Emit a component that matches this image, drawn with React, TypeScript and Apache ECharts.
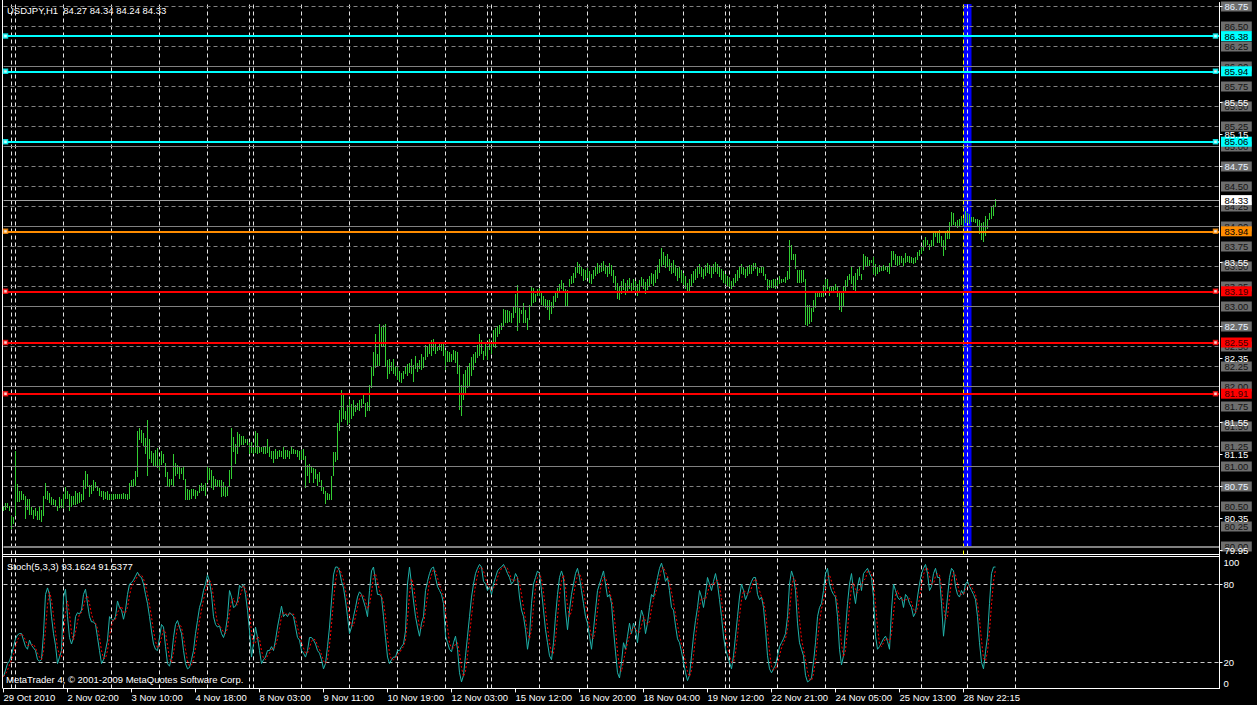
import React, { useEffect, useRef } from 'react';
import * as echarts from 'echarts';

const FONT = "'Liberation Sans', Arial, sans-serif";
const SLOTS = 609;
const X_LABELS = ['29 Oct 2010', '2 Nov 02:00', '3 Nov 10:00', '4 Nov 18:00', '8 Nov 03:00', '9 Nov 11:00', '10 Nov 19:00', '12 Nov 03:00', '15 Nov 12:00', '16 Nov 20:00', '18 Nov 04:00', '19 Nov 12:00', '22 Nov 21:00', '24 Nov 05:00', '25 Nov 13:00', '28 Nov 22:15'];
const X_LABEL_STEP = 32;
const DAY_STARTS = [4, 6, 30, 54, 78, 102, 123, 125, 149, 173, 197, 221, 242, 244, 268, 292, 316, 340, 361, 363, 387, 411, 435, 459, 482, 506];
const YELLOW_SEPARATOR = 480;
const BLUE_BAND = [480, 484];
const BLUE_BAND_PRICE = [86.78, 79.99];
const PRICE_LEVELS = [80.0, 80.25, 80.5, 80.75, 81.0, 81.25, 81.5, 81.75, 82.0, 82.25, 82.5, 82.75, 83.0, 83.25, 83.5, 83.75, 84.0, 84.25, 84.5, 84.75, 85.0, 85.25, 85.5, 85.75, 86.0, 86.25, 86.5, 86.75];
const LIGHT_LEVELS = [86.75, 84.75, 82.75, 80.75];
const SCALE_LABELS = [79.95, 80.35, 81.15, 81.55, 82.35, 83.55, 85.15, 85.55];
const SCALE_TICKS = [79.95, 80.35, 80.75, 81.15, 81.55, 82.35, 82.75, 83.55, 84.75, 85.15, 85.55, 86.75];
const CYAN_LINES = [86.38, 85.94, 85.06];
const ORANGE_LINES = [83.94];
const RED_LINES = [83.19, 82.55, 81.91];
const BID = 84.33;
const STOCH_LEVELS = [80, 20];
const STOCH_LABELS = [0, 20, 80, 100];

// bar highs / lows, bars 0..278
const HIGH_A = [
  80.51, 80.54, 80.55, 80.51, 80.38, 80.37, 81.19, 80.78, 80.69, 80.69,
  80.65, 80.63, 80.60, 80.59, 80.49, 80.46, 80.48, 80.44, 80.49, 80.46,
  80.63, 80.79, 80.70, 80.67, 80.62, 80.60, 80.58, 80.51, 80.62, 80.59,
  80.66, 80.74, 80.69, 80.65, 80.63, 80.63, 80.70, 80.67, 80.68, 80.65,
  80.83, 80.95, 80.90, 80.77, 80.77, 80.83, 80.81, 80.75, 80.73, 80.70,
  80.69, 80.68, 80.69, 80.65, 80.66, 80.66, 80.65, 80.66, 80.66, 80.65,
  80.67, 80.66, 80.66, 80.80, 80.83, 80.85, 80.94, 81.44, 81.48, 81.46,
  81.42, 81.36, 81.58, 81.34, 81.19, 81.17, 81.21, 81.23, 81.09, 81.19,
  81.15, 81.04, 80.93, 80.85, 80.85, 81.16, 81.04, 81.02, 81.00, 80.98,
  81.00, 80.84, 80.72, 80.71, 80.72, 80.72, 80.71, 80.69, 80.77, 80.79,
  80.77, 80.80, 81.00, 80.98, 80.96, 80.88, 80.84, 80.83, 80.83, 80.83,
  80.81, 80.76, 80.74, 80.96, 81.48, 81.37, 81.28, 81.43, 81.40, 81.38,
  81.38, 81.35, 81.35, 81.29, 81.31, 81.25, 81.44, 81.42, 81.25, 81.25,
  81.24, 81.25, 81.34, 81.25, 81.20, 81.19, 81.22, 81.19, 81.21, 81.20,
  81.25, 81.21, 81.21, 81.20, 81.25, 81.22, 81.21, 81.21, 81.19, 81.21,
  81.22, 81.13, 81.02, 81.03, 81.00, 80.98, 80.97, 80.90, 80.93, 80.83,
  80.75, 80.70, 80.67, 80.66, 80.88, 81.18, 81.18, 81.55, 81.71, 81.96,
  81.90, 81.69, 81.77, 81.85, 81.78, 81.83, 81.77, 81.80, 81.83, 81.85,
  81.90, 81.79, 81.81, 82.02, 82.24, 82.43, 82.66, 82.41, 82.78, 82.75,
  82.77, 82.78, 82.33, 82.34, 82.31, 82.34, 82.26, 82.24, 82.20, 82.17,
  82.19, 82.26, 82.28, 82.29, 82.35, 82.27, 82.38, 82.29, 82.33, 82.40,
  82.37, 82.52, 82.51, 82.54, 82.58, 82.59, 82.54, 82.50, 82.53, 82.54,
  82.53, 82.46, 82.45, 82.43, 82.41, 82.46, 82.45, 82.43, 82.27, 82.02,
  82.15, 82.21, 82.24, 82.29, 82.37, 82.41, 82.43, 82.52, 82.65, 82.58,
  82.45, 82.56, 82.50, 82.59, 82.53, 82.70, 82.73, 82.76, 82.77, 82.79,
  82.97, 82.96, 82.95, 82.94, 82.92, 82.99, 83.15, 83.27, 82.98, 82.95,
  83.04, 82.96, 82.86, 83.02, 83.26, 83.23, 83.15, 83.22, 83.23, 83.17,
  83.13, 83.09, 83.08, 83.08, 83.06, 83.13, 83.17, 83.23, 83.28,
];
const LOW_A = [
  80.45, 80.46, 80.48, 80.44, 80.22, 80.28, 80.38, 80.56, 80.56, 80.58,
  80.58, 80.34, 80.46, 80.40, 80.40, 80.34, 80.38, 80.33, 80.33, 80.31,
  80.38, 80.59, 80.58, 80.54, 80.52, 80.52, 80.49, 80.44, 80.48, 80.48,
  80.48, 80.59, 80.60, 80.45, 80.49, 80.52, 80.52, 80.53, 80.55, 80.56,
  80.58, 80.72, 80.74, 80.62, 80.65, 80.69, 80.73, 80.69, 80.63, 80.62,
  80.58, 80.60, 80.58, 80.58, 80.58, 80.58, 80.60, 80.60, 80.59, 80.59,
  80.59, 80.59, 80.58, 80.59, 80.75, 80.75, 80.76, 80.87, 81.33, 81.29,
  81.26, 81.16, 80.88, 81.09, 81.04, 81.00, 81.00, 80.98, 80.96, 81.02,
  81.04, 80.87, 80.74, 80.75, 80.77, 80.74, 80.88, 80.90, 80.84, 80.90,
  80.83, 80.58, 80.58, 80.58, 80.60, 80.63, 80.60, 80.63, 80.67, 80.69,
  80.69, 80.63, 80.79, 80.83, 80.73, 80.71, 80.74, 80.74, 80.74, 80.62,
  80.63, 80.62, 80.63, 80.74, 80.84, 81.18, 81.03, 81.15, 81.25, 81.27,
  81.27, 81.29, 81.27, 81.15, 81.17, 81.15, 81.17, 81.15, 81.17, 81.18,
  81.15, 81.15, 81.17, 81.12, 81.09, 81.05, 81.09, 81.09, 81.12, 81.12,
  81.10, 81.10, 81.12, 81.09, 81.15, 81.16, 81.15, 81.12, 81.08, 81.08,
  81.08, 80.73, 80.88, 80.79, 80.92, 80.80, 80.85, 80.76, 80.81, 80.69,
  80.65, 80.53, 80.58, 80.58, 80.58, 80.88, 81.06, 81.08, 81.44, 81.56,
  81.60, 81.58, 81.52, 81.54, 81.60, 81.63, 81.68, 81.71, 81.69, 81.73,
  81.78, 81.62, 81.69, 81.70, 81.98, 82.13, 82.23, 82.24, 82.26, 82.50,
  82.50, 82.24, 82.09, 82.15, 82.19, 82.15, 82.13, 82.08, 82.06, 82.04,
  82.09, 82.16, 82.13, 82.17, 82.15, 82.06, 82.22, 82.18, 82.22, 82.21,
  82.23, 82.33, 82.37, 82.41, 82.38, 82.44, 82.41, 82.44, 82.46, 82.44,
  82.38, 82.21, 82.31, 82.31, 82.31, 82.33, 82.29, 82.16, 81.71, 81.63,
  81.83, 81.92, 81.98, 81.99, 82.13, 82.21, 82.29, 82.36, 82.38, 82.40,
  82.33, 82.38, 82.33, 82.46, 82.41, 82.50, 82.48, 82.62, 82.66, 82.70,
  82.75, 82.79, 82.79, 82.81, 82.80, 82.86, 82.92, 82.69, 82.79, 82.90,
  82.80, 82.79, 82.70, 82.83, 83.00, 83.04, 83.06, 83.13, 83.13, 83.02,
  83.00, 82.98, 82.96, 82.83, 82.90, 82.98, 83.06, 83.11, 83.17,
];
// bars 279..373
const HIGH_B = [
  83.33, 83.29, 83.22, 83.21, 83.35, 83.38, 83.42, 83.50, 83.56, 83.53,
  83.50, 83.47, 83.45, 83.48, 83.44, 83.40, 83.46, 83.50, 83.54, 83.52,
  83.55, 83.57, 83.52, 83.49, 83.55, 83.52, 83.45, 83.38, 83.30, 83.26,
  83.32, 83.35, 83.30, 83.33, 83.36, 83.30, 83.34, 83.32, 83.28, 83.33,
  83.37, 83.35, 83.31, 83.34, 83.38, 83.42, 83.40, 83.45, 83.52, 83.60,
  83.73, 83.68, 83.63, 83.66, 83.60, 83.55, 83.58, 83.52, 83.48, 83.50,
  83.46, 83.42, 83.38, 83.30, 83.35, 83.40, 83.44, 83.47, 83.50, 83.53,
  83.50, 83.47, 83.52, 83.55, 83.52, 83.49, 83.53, 83.56, 83.53, 83.50,
  83.47, 83.44, 83.40, 83.38, 83.36, 83.32, 83.36, 83.40, 83.45, 83.50,
  83.53, 83.50, 83.47, 83.50, 83.52,
];
const LOW_B = [
  83.22, 83.19, 83.00, 83.00, 83.24, 83.28, 83.30, 83.36, 83.42, 83.40,
  83.38, 83.32, 83.33, 83.36, 83.30, 83.28, 83.34, 83.38, 83.40, 83.42,
  83.43, 83.44, 83.40, 83.37, 83.41, 83.38, 83.30, 83.20, 83.10, 83.08,
  83.15, 83.20, 83.14, 83.18, 83.22, 83.17, 83.21, 83.17, 83.13, 83.19,
  83.24, 83.22, 83.16, 83.20, 83.25, 83.28, 83.26, 83.30, 83.35, 83.42,
  83.50, 83.52, 83.48, 83.50, 83.44, 83.40, 83.42, 83.38, 83.32, 83.36,
  83.30, 83.27, 83.22, 83.17, 83.18, 83.26, 83.30, 83.33, 83.36, 83.40,
  83.37, 83.34, 83.38, 83.42, 83.40, 83.36, 83.41, 83.43, 83.40, 83.37,
  83.33, 83.30, 83.28, 83.26, 83.24, 83.22, 83.25, 83.29, 83.32, 83.36,
  83.40, 83.39, 83.36, 83.38, 83.40,
];
// bars 374..496
const HIGH_C = [
  83.52, 83.55, 83.54, 83.49, 83.48, 83.51, 83.49, 83.40, 83.34, 83.33,
  83.33, 83.34, 83.35, 83.33, 83.38, 83.35, 83.34, 83.37, 83.44, 83.83,
  83.77, 83.66, 83.66, 83.46, 83.45, 83.46, 83.45, 83.35, 83.02, 83.02,
  82.98, 83.08, 83.17, 83.18, 83.18, 83.18, 83.27, 83.35, 83.34, 83.24,
  83.25, 83.26, 83.28, 83.24, 83.18, 83.17, 83.26, 83.33, 83.38, 83.40,
  83.49, 83.38, 83.42, 83.47, 83.49, 83.41, 83.66, 83.63, 83.62, 83.58,
  83.58, 83.62, 83.53, 83.49, 83.52, 83.51, 83.52, 83.51, 83.51, 83.55,
  83.69, 83.69, 83.65, 83.63, 83.63, 83.63, 83.61, 83.67, 83.63, 83.63,
  83.62, 83.61, 83.62, 83.68, 83.70, 83.76, 83.83, 83.87, 83.83, 83.78,
  83.83, 83.94, 83.94, 83.93, 83.96, 83.88, 83.83, 83.92, 83.96, 84.06,
  84.18, 84.17, 84.06, 84.08, 84.09, 84.13, 84.10, 84.19, 84.17, 84.16,
  84.12, 84.12, 84.10, 84.09, 84.08, 84.05, 84.06, 84.13, 84.09, 84.17,
  84.26, 84.27, 84.34,
];
const LOW_C = [
  83.41, 83.44, 83.47, 83.38, 83.42, 83.42, 83.38, 83.33, 83.21, 83.23,
  83.23, 83.23, 83.22, 83.26, 83.28, 83.30, 83.31, 83.30, 83.33, 83.35,
  83.58, 83.58, 83.47, 83.29, 83.30, 83.30, 83.31, 82.77, 82.76, 82.78,
  82.81, 82.93, 82.98, 83.12, 83.12, 83.12, 83.12, 83.17, 83.22, 83.13,
  83.19, 83.17, 83.21, 83.12, 82.95, 82.93, 83.00, 83.17, 83.25, 83.33,
  83.28, 83.21, 83.17, 83.33, 83.38, 83.33, 83.46, 83.49, 83.51, 83.51,
  83.54, 83.41, 83.38, 83.41, 83.43, 83.44, 83.44, 83.45, 83.43, 83.41,
  83.49, 83.58, 83.52, 83.51, 83.52, 83.54, 83.51, 83.54, 83.56, 83.55,
  83.55, 83.53, 83.54, 83.58, 83.63, 83.65, 83.69, 83.75, 83.77, 83.71,
  83.75, 83.76, 83.87, 83.79, 83.79, 83.75, 83.63, 83.70, 83.84, 83.84,
  84.00, 84.02, 83.99, 83.98, 83.99, 84.02, 84.00, 84.04, 84.05, 84.03,
  84.06, 84.06, 84.05, 84.01, 83.91, 83.83, 83.81, 83.88, 83.97, 84.08,
  84.09, 84.13, 84.24,
];
const HIGH = [...HIGH_A, ...HIGH_B, ...HIGH_C];
const LOW = [...LOW_A, ...LOW_B, ...LOW_C];

// Stochastic %K (main) and %D (signal), bars 0..207 and 208..496
const K_A = [
  9, 14, 19, 21, 26, 32, 38, 41, 42, 42,
  37, 32, 30, 37, 33, 31, 29, 22, 21, 22,
  42, 72, 77, 72, 55, 42, 33, 19, 24, 29,
  70, 76, 55, 39, 34, 39, 55, 58, 57, 60,
  72, 76, 65, 55, 51, 51, 49, 39, 29, 19,
  22, 29, 37, 55, 53, 52, 55, 67, 62, 60,
  53, 60, 72, 80, 81, 83, 86, 89, 86, 85,
  80, 72, 65, 55, 44, 34, 30, 29, 39, 49,
  47, 32, 19, 17, 24, 39, 49, 52, 47, 42,
  29, 19, 15, 16, 22, 29, 42, 52, 62, 67,
  75, 80, 87, 82, 72, 55, 49, 47, 48, 42,
  39, 44, 55, 75, 70, 62, 63, 67, 79, 77,
  80, 72, 60, 44, 24, 34, 47, 39, 29, 19,
  22, 24, 29, 29, 32, 29, 37, 47, 55, 63,
  55, 57, 55, 58, 57, 55, 47, 39, 37, 29,
  27, 24, 29, 39, 39, 37, 34, 29, 27, 22,
  15, 19, 32, 47, 67, 87, 93, 93, 90, 82,
  77, 67, 55, 42, 47, 55, 62, 70, 74, 72,
  67, 62, 55, 75, 90, 93, 82, 72, 72, 70,
  55, 39, 24, 19, 22, 24, 24, 29, 29, 32,
  34, 44, 80, 93, 80, 67, 55, 47,
];
const K_B = [
  40, 50, 55, 75, 82, 88, 92, 93, 85, 78,
  75, 72, 65, 40, 35, 30, 28, 35, 40, 30,
  12, 5, 10, 25, 40, 55, 70, 80, 88, 92,
  95, 93, 82, 80, 75, 78, 72, 80, 85, 90,
  92, 93, 95, 92, 88, 85, 80, 82, 88, 85,
  70, 60, 55, 45, 30, 40, 65, 80, 85, 90,
  88, 75, 60, 45, 35, 25, 22, 35, 55, 72,
  85, 90, 85, 60, 45, 60, 72, 80, 88, 92,
  85, 75, 65, 55, 50, 40, 30, 45, 60, 75,
  80, 85, 90, 80, 70, 72, 65, 45, 28, 12,
  8, 20, 35, 30, 40, 50, 42, 50, 45, 35,
  50, 60, 55, 42, 50, 62, 72, 70, 78, 85,
  92, 96, 90, 82, 85, 75, 62, 60, 48, 38,
  35, 28, 20, 12, 6, 10, 25, 40, 52, 62,
  75, 70, 62, 72, 85, 80, 75, 82, 88, 80,
  68, 55, 40, 30, 25, 20, 15, 25, 40, 55,
  70, 80, 75, 68, 72, 78, 82, 85, 85, 72,
  68, 70, 62, 45, 25, 15, 12, 15, 18, 25,
  32, 35, 38, 42, 55, 80, 90, 85, 75, 50,
  35, 30, 25, 10, 5, 6, 8, 20, 35, 55,
  62, 65, 75, 88, 92, 80, 75, 72, 70, 55,
  30, 18, 25, 45, 65, 80, 88, 75, 65, 78,
  85, 75, 88, 90, 92, 88, 85, 70, 40, 30,
  32, 35, 38, 40, 36, 30, 60, 80, 75, 70,
  68, 70, 62, 72, 70, 65, 62, 55, 58, 70,
  80, 88, 92, 95, 88, 75, 78, 88, 92, 85,
  85, 65, 40, 55, 70, 85, 92, 90, 78, 72,
  70, 75, 72, 80, 82, 78, 75, 72, 68, 55,
  35, 20, 15, 28, 40, 65, 88, 93, 93,
];
const D_A = [
  9, 11, 14, 18, 22, 26, 32, 37, 40, 42,
  40, 37, 33, 33, 33, 34, 31, 27, 24, 22,
  28, 45, 64, 74, 68, 56, 43, 31, 25, 24,
  41, 58, 67, 57, 43, 37, 43, 51, 57, 58,
  63, 69, 71, 65, 57, 52, 50, 46, 39, 29,
  23, 23, 29, 40, 48, 53, 53, 58, 61, 63,
  58, 58, 62, 71, 78, 81, 83, 86, 87, 87,
  84, 79, 72, 64, 55, 44, 36, 31, 33, 39,
  45, 43, 33, 23, 20, 27, 37, 47, 49, 47,
  39, 30, 21, 17, 18, 22, 31, 41, 52, 60,
  68, 74, 81, 83, 80, 70, 59, 50, 48, 46,
  43, 42, 46, 58, 67, 69, 65, 64, 70, 74,
  79, 76, 71, 59, 43, 34, 35, 40, 38, 29,
  23, 22, 25, 27, 30, 30, 33, 38, 46, 55,
  58, 58, 56, 57, 57, 57, 53, 47, 41, 35,
  31, 27, 27, 31, 36, 38, 37, 33, 30, 26,
  21, 19, 22, 33, 49, 67, 82, 91, 92, 88,
  83, 75, 66, 55, 48, 48, 55, 62, 69, 72,
  71, 67, 61, 64, 73, 86, 88, 82, 75, 71,
  66, 55, 39, 27, 22, 22, 23, 26, 27, 30,
  32, 37, 53, 72, 84, 80, 67, 56,
];
const D_B = [
  47, 46, 48, 60, 71, 82, 87, 91, 90, 85,
  79, 75, 71, 59, 47, 35, 31, 31, 34, 35,
  27, 16, 9, 13, 25, 40, 55, 68, 79, 87,
  92, 93, 90, 85, 79, 78, 75, 77, 79, 85,
  89, 92, 93, 93, 92, 88, 84, 82, 83, 85,
  81, 72, 62, 53, 43, 38, 45, 62, 77, 85,
  88, 84, 74, 60, 47, 35, 27, 27, 37, 54,
  71, 82, 87, 78, 63, 55, 59, 71, 80, 87,
  88, 84, 75, 65, 57, 48, 40, 38, 45, 60,
  72, 80, 85, 85, 80, 74, 69, 61, 46, 28,
  16, 13, 21, 28, 35, 40, 44, 47, 46, 43,
  43, 48, 55, 52, 49, 51, 61, 68, 73, 78,
  85, 91, 93, 89, 86, 81, 74, 66, 57, 49,
  40, 34, 28, 20, 13, 9, 14, 25, 39, 51,
  63, 69, 69, 68, 73, 79, 80, 79, 82, 83,
  79, 68, 54, 42, 32, 25, 20, 20, 27, 40,
  55, 68, 75, 74, 72, 73, 77, 82, 84, 81,
  75, 70, 67, 59, 44, 28, 17, 14, 15, 19,
  25, 31, 35, 38, 45, 59, 75, 85, 83, 70,
  53, 38, 30, 22, 13, 7, 6, 11, 21, 37,
  51, 61, 67, 76, 85, 87, 82, 76, 72, 66,
  52, 34, 24, 29, 45, 63, 78, 81, 76, 73,
  76, 79, 83, 84, 90, 90, 88, 81, 65, 47,
  34, 32, 35, 38, 38, 35, 42, 57, 72, 75,
  71, 69, 67, 68, 68, 69, 66, 61, 58, 61,
  69, 79, 87, 92, 92, 86, 80, 80, 86, 88,
  87, 78, 63, 53, 55, 70, 82, 89, 87, 80,
  73, 72, 72, 76, 78, 80, 78, 75, 72, 65,
  53, 37, 23, 21, 28, 44, 64, 82, 91,
];
const K = [...K_A, ...K_B];
const D = [...D_A, ...D_B];

const BAR_COLOR = '#32cd32';

function App() {
  const ref = useRef<HTMLDivElement>(null);
  useEffect(() => {
    document.body.style.margin = '0';
    document.body.style.background = '#000';
    if (!ref.current) return;
    const chart = echarts.init(ref.current, null, { renderer: 'svg' });

    const cats = Array.from({ length: SLOTS }, (_, i) => String(i));
    const bars: number[][] = HIGH.map((h, i) => [i, LOW[i], h]);

    const isLabelIdx = (idx: number) => idx % X_LABEL_STEP === 0 && idx / X_LABEL_STEP < X_LABELS.length;
    const isInt = (p: number) => Math.abs(p - Math.round(p)) < 1e-6;

    const boxLabel = (text: string, bg: string, color: string) => ({
      show: true,
      position: 'end',
      distance: 1.5,
      formatter: text,
      backgroundColor: bg,
      color,
      padding: [1, 3.5, 0, 3.5],
      lineHeight: 9,
      fontSize: 9.5,
      fontFamily: FONT,
    });

    const dayLines = (withYellow: boolean) => {
      const d: any[] = DAY_STARTS.map((i) => ({ xAxis: i }));
      if (withYellow) d.push({ xAxis: YELLOW_SEPARATOR, lineStyle: { color: '#ffff00', type: [4, 3], width: 1 } });
      return d;
    };

    const objectLines: any[] = [];
    const markers: any[] = [];
    const addObj = (p: number, color: string, textColor: string) => {
      objectLines.push({ yAxis: p, lineStyle: { color, width: 2, type: 'solid' }, label: boxLabel(p.toFixed(2), color, textColor) });
      [1, 606].forEach((x) => markers.push({ value: [x, p], itemStyle: { color: '#ffffff', borderColor: color, borderWidth: 1.5 } }));
    };
    CYAN_LINES.forEach((p) => addObj(p, '#00ffff', '#000000'));
    ORANGE_LINES.forEach((p) => addObj(p, '#ff8c00', '#000000'));
    RED_LINES.forEach((p) => addObj(p, '#ff0000', '#3a0000'));
    objectLines.push({ yAxis: BID, lineStyle: { color: '#a0a0a0', width: 1, type: 'solid' }, label: boxLabel(BID.toFixed(2), '#ffffff', '#000000') });

    const option: any = {
      animation: false,
      backgroundColor: '#000000',
      textStyle: { fontFamily: FONT },
      grid: [
        { left: 3.5, top: 2.5, width: 1216, height: 552 },
        { left: 3.5, top: 557.9, width: 1216, height: 130.5 },
      ],
      xAxis: [
        {
          type: 'category', gridIndex: 0, data: cats, boundaryGap: false,
          axisLine: { show: true, lineStyle: { color: '#ffffff', width: 1 } },
          axisTick: { show: false }, axisLabel: { show: false }, splitLine: { show: false },
        },
        {
          type: 'category', gridIndex: 1, data: cats, boundaryGap: false,
          axisLine: { show: true, lineStyle: { color: '#ffffff', width: 1 } },
          axisTick: { show: true, interval: (idx: number) => isLabelIdx(idx), length: 4, lineStyle: { color: '#ffffff' } },
          axisLabel: {
            show: true, interval: (idx: number) => isLabelIdx(idx),
            formatter: (_v: string, idx: number) => X_LABELS[idx / X_LABEL_STEP] ?? '',
            align: 'left', margin: 4, color: '#ffffff', fontSize: 9.5, fontFamily: FONT,
          },
          splitLine: { show: false },
        },
      ],
      yAxis: [
        {
          type: 'value', gridIndex: 0, min: 79.9, max: 86.8, position: 'right', z: 10,
          axisLine: { show: true, lineStyle: { color: '#ffffff', width: 1 } },
          axisTick: { show: true, length: 3, customValues: SCALE_TICKS, lineStyle: { color: '#ffffff' } },
          axisLabel: { show: true, customValues: SCALE_LABELS, color: '#ffffff', fontSize: 9.5, fontFamily: FONT, margin: 5, formatter: (v: number) => v.toFixed(2) },
          splitLine: { show: false },
        },
        {
          type: 'value', gridIndex: 1, min: 0, max: 100, position: 'right', z: 10,
          axisLine: { show: true, lineStyle: { color: '#ffffff', width: 1 } },
          axisTick: { show: true, length: 3, customValues: STOCH_LEVELS, lineStyle: { color: '#ffffff' } },
          axisLabel: {
            show: true, customValues: STOCH_LABELS, color: '#ffffff', fontSize: 9.5, fontFamily: FONT, margin: 4,
            verticalAlignMinLabel: 'bottom', verticalAlignMaxLabel: 'top',
          },
          splitLine: { show: false },
        },
      ],
      series: [
        {
          name: 'band', type: 'line', xAxisIndex: 0, yAxisIndex: 0, data: [], silent: true,
          markArea: {
            z: 1, silent: true, itemStyle: { color: '#0000ff', opacity: 1 },
            data: [[{ xAxis: BLUE_BAND[0], yAxis: BLUE_BAND_PRICE[0] }, { xAxis: BLUE_BAND[1], yAxis: BLUE_BAND_PRICE[1] }]],
          },
        },
        {
          name: 'daysMain', type: 'line', xAxisIndex: 0, yAxisIndex: 0, data: [], silent: true,
          markLine: {
            z: 2, silent: true, symbol: ['none', 'none'], label: { show: false },
            lineStyle: { color: '#e6e6e6', type: [4, 3], width: 1 },
            data: dayLines(true),
          },
        },
        {
          name: 'bars', type: 'custom', xAxisIndex: 0, yAxisIndex: 0, z: 3, silent: true,
          encode: { x: 0, y: [1, 2] },
          data: bars,
          renderItem: (_params: any, api: any) => {
            const i = api.value(0);
            const top = api.coord([i, api.value(2)]);
            const bot = api.coord([i, api.value(1)]);
            const x = Math.floor(top[0]) + 0.5;
            const y1 = Math.round(top[1]);
            let y2 = Math.round(bot[1]);
            if (y2 - y1 < 1) y2 = y1 + 1;
            return { type: 'line', shape: { x1: x, y1, x2: x, y2 }, style: { stroke: BAR_COLOR, lineWidth: 1 } };
          },
        },
        {
          name: 'levels', type: 'line', xAxisIndex: 0, yAxisIndex: 0, data: [], silent: true,
          markLine: {
            z: 4, silent: true, symbol: ['none', 'none'],
            data: PRICE_LEVELS.map((p) => ({
              yAxis: p,
              lineStyle: { color: '#808080', type: isInt(p) ? 'solid' : [4, 3], width: p === 80 ? 2 : 1 },
              label: boxLabel(p.toFixed(2), '#6e6e6e', LIGHT_LEVELS.includes(p) ? '#e8f2ff' : '#141414'),
            })),
          },
        },
        {
          name: 'objects', type: 'line', xAxisIndex: 0, yAxisIndex: 0, data: [], silent: true,
          markLine: { z: 5, silent: true, symbol: ['none', 'none'], data: objectLines },
        },
        {
          name: 'markers', type: 'scatter', xAxisIndex: 0, yAxisIndex: 0, z: 6, silent: true,
          symbol: 'rect', symbolSize: 4, data: markers,
        },
        {
          name: 'daysStoch', type: 'line', xAxisIndex: 1, yAxisIndex: 1, data: [], silent: true,
          markLine: {
            z: 1, silent: true, symbol: ['none', 'none'], label: { show: false },
            lineStyle: { color: '#e6e6e6', type: [4, 3], width: 1 },
            data: [...dayLines(false), ...STOCH_LEVELS.map((v) => ({ yAxis: v, lineStyle: { color: '#c8c8c8', type: [4, 3], width: 1 } }))],
          },
        },
        {
          name: 'K', type: 'line', xAxisIndex: 1, yAxisIndex: 1, z: 3, data: K, showSymbol: false, symbol: 'none',
          lineStyle: { color: '#20b2aa', width: 1 }, silent: true,
        },
        {
          name: 'D', type: 'line', xAxisIndex: 1, yAxisIndex: 1, z: 4, data: D, showSymbol: false, symbol: 'none',
          lineStyle: { color: '#ff0000', width: 1, type: [2, 2] }, silent: true,
        },
      ],
      graphic: [
        { type: 'line', silent: true, shape: { x1: 2.5, y1: 0, x2: 2.5, y2: 688.5 }, style: { stroke: '#ffffff', lineWidth: 1 } },
        { type: 'line', silent: true, shape: { x1: 2.5, y1: 556.5, x2: 1219.5, y2: 556.5 }, style: { stroke: '#ffffff', lineWidth: 1 } },
        { type: 'line', silent: true, shape: { x1: 1219.5, y1: 554, x2: 1219.5, y2: 558.5 }, style: { stroke: '#ffffff', lineWidth: 1 } },
        { type: 'text', silent: true, left: 7, top: 5, style: { text: 'USDJPY,H1\u00a0\u00a084.27 84.34 84.24 84.33', fill: '#ffffff', font: `9.5px ${FONT}` } },
        { type: 'text', silent: true, left: 7, top: 561.5, style: { text: 'Stoch(5,3,3) 93.1624 91.5377', fill: '#ffffff', font: `9.5px ${FONT}` } },
        { type: 'text', silent: true, left: 6, top: 674.5, style: { text: 'MetaTrader 4, \u00a9 2001-2009 MetaQuotes Software Corp.', fill: '#ffffff', font: `9.5px ${FONT}` } },
      ],
    };

    chart.setOption(option);
    return () => chart.dispose();
  }, []);

  return <div ref={ref} style={{ width: 1257, height: 705, background: '#000' }} />;
}

export default App;
